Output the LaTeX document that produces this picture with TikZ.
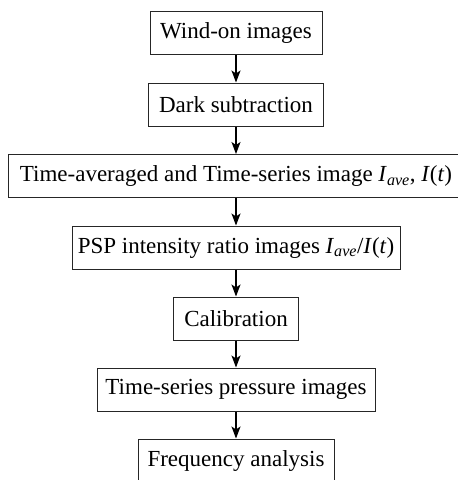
\documentclass[tikz,border=0pt]{standalone}
\usepackage{fontspec}
\setmainfont{Liberation Serif}
\usetikzlibrary{arrows.meta}
\newcommand{\ivar}[1]{\textit{#1}}
\begin{document}
\begin{tikzpicture}[x=1pt,y=-1pt,
  flowbox/.style={draw=black!85, line width=1pt, minimum height=43pt, inner sep=0pt,
    font=\fontsize{23}{27}\selectfont, anchor=center},
  flowarrow/.style={-{Stealth[length=12pt,width=9pt,inset=3pt]}, line width=1.3pt, black}]
\useasboundingbox (0,0) rectangle (458,480);
\clip (0,0) rectangle (458,480);
\node[flowbox, minimum width=172pt] (n1) at (236,33) {Wind-on images};
\node[flowbox, minimum width=175pt] (n2) at (236,104.5) {Dark subtraction};
\node[flowbox, minimum width=456pt] (n3) at (236,176) {Time-averaged and Time-series image \ivar{I}\textsubscript{\ivar{ave}}, \ivar{I}(\ivar{t})};
\node[flowbox, minimum width=328pt] (n4) at (236,247.5) {PSP intensity ratio images \ivar{I}\textsubscript{\ivar{ave}}/\ivar{I}(\ivar{t})};
\node[flowbox, minimum width=125pt] (n5) at (236,318.5) {Calibration};
\node[flowbox, minimum width=278pt] (n6) at (236,389.5) {Time-series pressure images};
\node[flowbox, minimum width=196pt] (n7) at (236,460.5) {Frequency analysis};
\foreach \a/\b in {n1/n2,n2/n3,n3/n4,n4/n5,n5/n6,n6/n7}
  \draw[flowarrow] (\a.south) -- (\b.north);
\end{tikzpicture}
\end{document}
